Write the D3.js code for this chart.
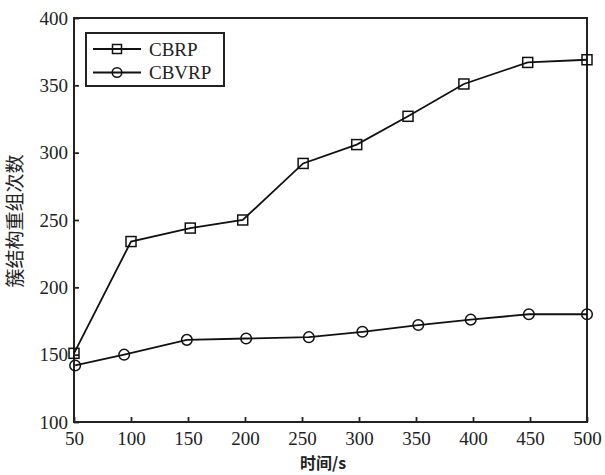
<!DOCTYPE html>
<html>
<head>
<meta charset="utf-8">
<script src="https://cdn.jsdelivr.net/npm/d3@7"></script>
<style>
  body { margin: 0; background: #fff; }
  svg { display: block; }
  .tick text { font-family: "Liberation Serif", "Times New Roman", serif; font-size: 19px; fill: #222; }
</style>
</head>
<body>
<div id="chart"></div>
<script>
// data
const cbrpTime = [50, 100, 152, 198, 251, 298, 343, 392, 448, 500];
const cbrpValues = [151, 234, 244, 250, 292, 306, 327, 351, 367, 369];
const cbvrpTime = [51, 94, 149, 201, 256, 303, 352, 398, 449, 500];
const cbvrpValues = [142, 150, 161, 162, 163, 167, 172, 176, 180, 180];
const xTicks = [50, 100, 150, 200, 250, 300, 350, 400, 450, 500];
const yTicks = [100, 150, 200, 250, 300, 350, 400];
const seriesNames = ['CBRP', 'CBVRP'];

const width = 605;
const height = 475;
const margin = { top: 18, right: 18, bottom: 53, left: 74 };

const svg = d3.select('#chart')
    .append('svg')
    .attr('width', width)
    .attr('height', height);

const x = d3.scaleLinear()
    .domain([50, 500])
    .range([margin.left, width - margin.right]);

const y = d3.scaleLinear()
    .domain([100, 400])
    .range([height - margin.bottom, margin.top]);

// axes with inward ticks
const xAxis = svg.append('g')
    .attr('transform', 'translate(0,' + (height - margin.bottom) + ')')
    .call(d3.axisBottom(x).tickValues(xTicks).tickSizeInner(-5).tickSizeOuter(0).tickPadding(10));

const yAxis = svg.append('g')
    .attr('transform', 'translate(' + margin.left + ',0)')
    .call(d3.axisLeft(y).tickValues(yTicks).tickSizeInner(-5).tickSizeOuter(0).tickPadding(6));

[xAxis, yAxis].forEach((g) => {
    g.select('.domain').remove();
    g.selectAll('.tick line').attr('stroke', '#222').attr('stroke-width', 1.8);
});

// frame
svg.append('rect')
    .attr('x', x(50))
    .attr('y', y(400))
    .attr('width', x(500) - x(50))
    .attr('height', y(100) - y(400))
    .attr('fill', 'none')
    .attr('stroke', '#222')
    .attr('stroke-width', 2);

const line = d3.line()
    .x((d) => x(d[0]))
    .y((d) => y(d[1]));

const cbrp = d3.zip(cbrpTime, cbrpValues);
const cbvrp = d3.zip(cbvrpTime, cbvrpValues);

function drawSeries(data, shape) {
    svg.append('path')
        .datum(data)
        .attr('d', line)
        .attr('fill', 'none')
        .attr('stroke', '#111')
        .attr('stroke-width', 1.8);

    if (shape === 'square') {
        svg.selectAll('.sq')
            .data(data)
            .enter()
            .append('rect')
            .attr('x', (d) => x(d[0]) - 5)
            .attr('y', (d) => y(d[1]) - 5)
            .attr('width', 10)
            .attr('height', 10)
            .attr('fill', 'none')
            .attr('stroke', '#111')
            .attr('stroke-width', 1.5);
    } else {
        svg.selectAll('.ci')
            .data(data)
            .enter()
            .append('circle')
            .attr('cx', (d) => x(d[0]))
            .attr('cy', (d) => y(d[1]))
            .attr('r', 5.3)
            .attr('fill', 'none')
            .attr('stroke', '#111')
            .attr('stroke-width', 1.5);
    }
}

drawSeries(cbrp, 'square');
drawSeries(cbvrp, 'circle');

// legend
const legend = svg.append('g');
legend.append('rect')
    .attr('x', 86)
    .attr('y', 33)
    .attr('width', 138)
    .attr('height', 53)
    .attr('fill', '#fff')
    .attr('stroke', '#222')
    .attr('stroke-width', 2);

seriesNames.forEach((name, i) => {
    const ly = 49 + i * 23.5;
    legend.append('line')
        .attr('x1', 93).attr('x2', 141)
        .attr('y1', ly).attr('y2', ly)
        .attr('stroke', '#111')
        .attr('stroke-width', 1.8);
    if (i === 0) {
        legend.append('rect')
            .attr('x', 117 - 4.5).attr('y', ly - 4.5)
            .attr('width', 9).attr('height', 9)
            .attr('fill', 'none').attr('stroke', '#111').attr('stroke-width', 1.5);
    } else {
        legend.append('circle')
            .attr('cx', 117).attr('cy', ly).attr('r', 4.8)
            .attr('fill', 'none').attr('stroke', '#111').attr('stroke-width', 1.5);
    }
    legend.append('text')
        .attr('x', 149)
        .attr('y', ly + 6.5)
        .style('font-family', '"Liberation Serif", "Times New Roman", serif')
        .style('font-size', '19px')
        .style('fill', '#222')
        .text(name);
});

// axis titles
svg.append('text')
    .attr('x', 323)
    .attr('y', 469)
    .attr('text-anchor', 'middle')
    .style('font-family', '"Noto Sans CJK SC", sans-serif')
    .style('font-size', '16px')
    .style('font-weight', 'bold')
    .style('fill', '#222')
    .text('时间/s');

svg.append('text')
    .attr('transform', 'translate(22,221) rotate(-90)')
    .attr('text-anchor', 'middle')
    .style('font-family', '"Noto Sans CJK SC", sans-serif')
    .style('font-size', '19px')
    .style('fill', '#222')
    .text('簇结构重组次数');
</script>
</body>
</html>
